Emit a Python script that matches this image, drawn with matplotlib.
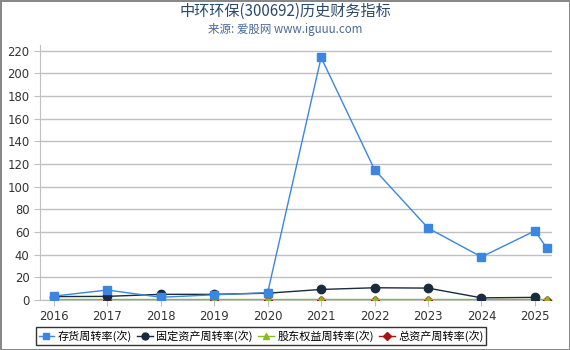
import matplotlib
matplotlib.use("Agg")
import matplotlib.pyplot as plt
from matplotlib.lines import Line2D

plt.rcParams['font.family'] = ['Noto Sans CJK SC', 'DejaVu Sans']

years = [2016, 2017, 2018, 2019, 2020, 2021, 2022, 2023, 2024, 2025, 2025.22]
year_ticks = [2016, 2017, 2018, 2019, 2020, 2021, 2022, 2023, 2024, 2025]
inventory = [3.4, 8.8, 2.4, 4.6, 6.5, 214, 115, 63.5, 38, 61, 46]
fixed_years = [2016, 2017, 2018, 2019, 2020, 2021, 2022, 2023, 2024, 2025]
fixed_assets = [3.0, 3.2, 5.0, 5.0, 6.0, 9.3, 10.8, 10.5, 1.9, 2.3]
equity = [0.6, 0.6, 0.6, 0.6, 0.6, 0.6, 0.6, 0.6, 0.6, 0.6, 0.6]
total_assets = [0.3, 0.3, 0.3, 0.3, 0.3, 0.3, 0.3, 0.3, 0.3, 0.3, 0.3]
labels = ['存货周转率(次)', '固定资产周转率(次)', '股东权益周转率(次)', '总资产周转率(次)']

fig = plt.figure(figsize=(5.7, 3.5), dpi=100)
fig.patch.set_edgecolor('#888888')
fig.patch.set_linewidth(2)
ax = fig.add_axes([40/570, 1-300/350, 512/570, 255/350])

ax.plot(years, total_assets, color='#aa1111', marker='D', markersize=4, lw=1, zorder=3)
ax.plot(years, equity, color='#88bb22', marker='^', markersize=5, lw=1, zorder=3)
ax.plot(fixed_years, fixed_assets, color='#1a2a40', marker='o', markersize=6, lw=1, zorder=4)
ax.plot(years, inventory, color='#3a86e0', marker='s', markersize=6, lw=1, zorder=5)

ax.set_xlim(2015.74, 2025.32)
ax.set_ylim(0, 225)
ax.set_yticks(range(0, 221, 20))
ax.set_xticks(year_ticks)
ax.grid(axis='y', color='#c0c0c0', lw=1)
ax.set_axisbelow(True)
for s in ['top', 'right']:
    ax.spines[s].set_visible(False)
ax.spines['left'].set_color('#c0c0c0')
ax.spines['bottom'].set_color('#c0c0c0')
ax.tick_params(axis='both', colors='#c0c0c0', labelcolor='#333333', labelsize=8.4, length=4)
for t in ax.get_xticklabels() + ax.get_yticklabels():
    t.set_family('DejaVu Sans')

fig.text(0.5, 0.968, '中环环保(300692)历史财务指标', ha='center', va='center', fontsize=10.9, color='#2a4a6a')
fig.text(0.5, 0.917, '来源: 爱股网 www.iguuu.com', ha='center', va='center', fontsize=8.3, color='#4a6a94')

handles = [
    Line2D([], [], color='#3a86e0', marker='s', markersize=5, lw=1),
    Line2D([], [], color='#1a2a40', marker='o', markersize=5, lw=1),
    Line2D([], [], color='#88bb22', marker='^', markersize=5, lw=1),
    Line2D([], [], color='#aa1111', marker='D', markersize=4, lw=1),
]
leg = fig.legend(handles, labels, loc='center', bbox_to_anchor=(0.458, 0.04), ncol=4,
                 fontsize=8, frameon=True, fancybox=False, handlelength=1.4,
                 handletextpad=0.3, columnspacing=0.5, borderpad=0.25)
leg.get_frame().set_edgecolor('black')
leg.get_frame().set_linewidth(1)

fig.savefig('out.png', dpi=100)
